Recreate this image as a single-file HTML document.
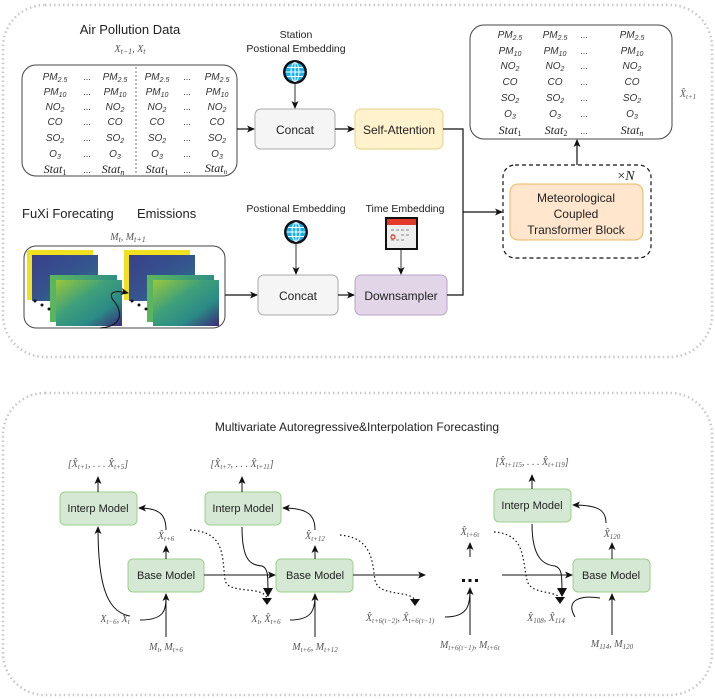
<!DOCTYPE html>
<html><head><meta charset="utf-8"><style>
body{margin:0;background:#fff}
svg{display:block}
.s{font-family:"Liberation Sans",sans-serif;fill:#222}
.p{font-family:"Liberation Sans",sans-serif;font-style:italic;font-size:10px;fill:#333;text-anchor:middle}
.m{font-family:"Liberation Serif",serif;font-style:italic;font-size:10px;fill:#555;text-anchor:middle}
.d{font-family:"Liberation Sans",sans-serif;font-size:9px;fill:#333;text-anchor:middle}
.st{font-family:"Liberation Serif",serif;font-style:italic;font-size:12px;fill:#222;text-anchor:middle}
</style></head><body>
<svg width="715" height="699" viewBox="0 0 715 699" xmlns="http://www.w3.org/2000/svg">
<defs>
<marker id="a" markerWidth="8" markerHeight="8" refX="7" refY="4" orient="auto" markerUnits="userSpaceOnUse"><path d="M0,0.5 L8,4 L0,7.5 L2,4Z" fill="#111"/></marker>
<marker id="b" markerWidth="10" markerHeight="10" refX="6" refY="5" orient="auto" markerUnits="userSpaceOnUse"><path d="M0,0 L9,5 L0,10Z" fill="#111"/></marker>
<linearGradient id="pu" x1="0" y1="0" x2="1" y2="1"><stop offset="0" stop-color="#3b3f8a"/><stop offset=".5" stop-color="#35548e"/><stop offset="1" stop-color="#2a7a8a"/></linearGradient>
<linearGradient id="gr" x1="0" y1="0" x2="1" y2="1"><stop offset="0" stop-color="#9ac83a"/><stop offset=".4" stop-color="#3ea07a"/><stop offset=".7" stop-color="#2b8a86"/><stop offset="1" stop-color="#3b2a78"/></linearGradient>
<linearGradient id="gr2" x1="0" y1="0" x2="1" y2="0"><stop offset="0" stop-color="#5cb85c"/><stop offset="1" stop-color="#2f8f84"/></linearGradient>
</defs>

<rect x="3" y="5" width="709" height="352" rx="42" fill="none" stroke="#c8c8c8" stroke-width="2.5" stroke-dasharray="1.5 3"/>
<rect x="3" y="393" width="709" height="302" rx="42" fill="none" stroke="#c8c8c8" stroke-width="2.5" stroke-dasharray="1.5 3"/>

<text class="s" x="130" y="34" font-size="13" text-anchor="middle">Air Pollution Data</text>
<text class="m" x="130" y="52" font-size="11">X<tspan font-size="8" dy="2">t−1</tspan><tspan dy="-2">, X</tspan><tspan font-size="8" dy="2">t</tspan></text>
<rect x="22" y="65" width="215" height="111" rx="14" fill="#fff" stroke="#444" stroke-width="1"/>
<line x1="136" y1="67" x2="136" y2="175" stroke="#777" stroke-dasharray="2 2"/>
<g>
<text class="p" x="55" y="80">PM<tspan font-size="7" dy="2">2.5</tspan></text><text class="d" x="87" y="80">...</text><text class="p" x="115" y="80">PM<tspan font-size="7" dy="2">2.5</tspan></text><text class="p" x="157" y="80">PM<tspan font-size="7" dy="2">2.5</tspan></text><text class="d" x="187" y="80">...</text><text class="p" x="217" y="80">PM<tspan font-size="7" dy="2">2.5</tspan></text>
<text class="p" x="55" y="95">PM<tspan font-size="7" dy="2">10</tspan></text><text class="d" x="87" y="95">...</text><text class="p" x="115" y="95">PM<tspan font-size="7" dy="2">10</tspan></text><text class="p" x="157" y="95">PM<tspan font-size="7" dy="2">10</tspan></text><text class="d" x="187" y="95">...</text><text class="p" x="217" y="95">PM<tspan font-size="7" dy="2">10</tspan></text>
<text class="p" x="55" y="110">NO<tspan font-size="7" dy="2">2</tspan></text><text class="d" x="87" y="110">...</text><text class="p" x="115" y="110">NO<tspan font-size="7" dy="2">2</tspan></text><text class="p" x="157" y="110">NO<tspan font-size="7" dy="2">2</tspan></text><text class="d" x="187" y="110">...</text><text class="p" x="217" y="110">NO<tspan font-size="7" dy="2">2</tspan></text>
<text class="p" x="55" y="125">CO</text><text class="d" x="87" y="125">...</text><text class="p" x="115" y="125">CO</text><text class="p" x="157" y="125">CO</text><text class="d" x="187" y="125">...</text><text class="p" x="217" y="125">CO</text>
<text class="p" x="55" y="141">SO<tspan font-size="7" dy="2">2</tspan></text><text class="d" x="87" y="141">...</text><text class="p" x="115" y="141">SO<tspan font-size="7" dy="2">2</tspan></text><text class="p" x="157" y="141">SO<tspan font-size="7" dy="2">2</tspan></text><text class="d" x="187" y="141">...</text><text class="p" x="217" y="141">SO<tspan font-size="7" dy="2">2</tspan></text>
<text class="p" x="55" y="157">O<tspan font-size="7" dy="2">3</tspan></text><text class="d" x="87" y="157">...</text><text class="p" x="115" y="157">O<tspan font-size="7" dy="2">3</tspan></text><text class="p" x="157" y="157">O<tspan font-size="7" dy="2">3</tspan></text><text class="d" x="187" y="157">...</text><text class="p" x="217" y="157">O<tspan font-size="7" dy="2">3</tspan></text>
<text class="st" x="55" y="173">Stat<tspan font-size="8" dy="2" font-style="normal">1</tspan></text><text class="d" x="87" y="173">...</text><text class="st" x="113" y="173">Stat<tspan font-size="8" dy="2">n</tspan></text><text class="st" x="157" y="173">Stat<tspan font-size="8" dy="2" font-style="normal">1</tspan></text><text class="d" x="187" y="173">...</text><text class="st" x="216" y="172" font-size="10">Stat<tspan font-size="7" dy="2">n</tspan></text>
</g>

<text class="s" x="296" y="38" font-size="10.5" text-anchor="middle">Station</text>
<text class="s" x="296" y="52" font-size="10.5" text-anchor="middle">Postional Embedding</text>
<g transform="translate(295,72)"><circle r="12" fill="#111"/><circle r="9.5" fill="#1ab0e8"/><g stroke="#fff" stroke-width="1" fill="none"><ellipse rx="4" ry="9.5"/><line x1="-9.5" y1="0" x2="9.5" y2="0"/><line x1="0" y1="-9.5" x2="0" y2="9.5"/><line x1="-8" y1="-4.5" x2="8" y2="-4.5"/><line x1="-8" y1="4.5" x2="8" y2="4.5"/></g></g>
<line x1="295" y1="84" x2="295" y2="108" stroke="#333" marker-end="url(#a)"/>
<line x1="237" y1="129" x2="254" y2="129" stroke="#111" stroke-width="1.2" marker-end="url(#a)"/>
<rect x="255" y="109" width="80" height="40" rx="6" fill="#f5f5f5" stroke="#aaa"/>
<text class="s" x="295" y="134" font-size="12" text-anchor="middle" fill="#333">Concat</text>
<line x1="335" y1="129" x2="354" y2="129" stroke="#111" stroke-width="1.2" marker-end="url(#a)"/>
<rect x="355" y="109" width="88" height="40" rx="6" fill="#fff2cc" stroke="#e6d08a"/>
<text class="s" x="399" y="134" font-size="12" text-anchor="middle">Self-Attention</text>

<text class="s" x="22" y="218" font-size="13">FuXi Forecating</text>
<text class="s" x="137" y="218" font-size="13">Emissions</text>
<text class="m" x="128" y="240" font-size="11">M<tspan font-size="8" dy="2">t</tspan><tspan dy="-2">, M</tspan><tspan font-size="8" dy="2">t+1</tspan></text>
<rect x="24" y="246" width="201" height="82" rx="12" fill="#fff" stroke="#444"/>
<g>
<rect x="27" y="250" width="66" height="50" fill="#f0e020"/>
<rect x="32" y="255" width="66" height="46" fill="url(#pu)"/>
<rect x="50" y="275" width="67" height="47" fill="url(#gr2)"/>
<rect x="56" y="280" width="66" height="46" fill="url(#gr)"/>
<rect x="124" y="250" width="66" height="50" fill="#f0e020"/>
<rect x="129" y="255" width="66" height="46" fill="url(#pu)"/>
<rect x="147" y="275" width="67" height="47" fill="url(#gr2)"/>
<rect x="153" y="280" width="66" height="46" fill="url(#gr)"/>
<g fill="#111"><circle cx="35" cy="301" r="1.5"/><circle cx="42" cy="305" r="1.5"/><circle cx="49" cy="309" r="1.5"/><circle cx="132" cy="301" r="1.5"/><circle cx="139" cy="305" r="1.5"/><circle cx="146" cy="309" r="1.5"/></g>
<path d="M100,328 C125,326 122,310 113,300 C108,292 115,290 128,293" fill="none" stroke="#111" marker-end="url(#a)"/>
</g>
<line x1="225" y1="295" x2="257" y2="295" stroke="#111" stroke-width="1.2" marker-end="url(#a)"/>

<text class="s" x="296" y="212" font-size="10.5" text-anchor="middle">Postional Embedding</text>
<g transform="translate(296,232)"><circle r="12" fill="#111"/><circle r="9.5" fill="#1ab0e8"/><g stroke="#fff" stroke-width="1" fill="none"><ellipse rx="4" ry="9.5"/><line x1="-9.5" y1="0" x2="9.5" y2="0"/><line x1="0" y1="-9.5" x2="0" y2="9.5"/><line x1="-8" y1="-4.5" x2="8" y2="-4.5"/><line x1="-8" y1="4.5" x2="8" y2="4.5"/></g></g>
<line x1="296" y1="244" x2="296" y2="274" stroke="#333" marker-end="url(#a)"/>
<rect x="258" y="275" width="80" height="40" rx="6" fill="#f5f5f5" stroke="#aaa"/>
<text class="s" x="298" y="300" font-size="12" text-anchor="middle" fill="#333">Concat</text>
<line x1="338" y1="295" x2="354" y2="295" stroke="#111" stroke-width="1.2" marker-end="url(#a)"/>
<rect x="355" y="275" width="92" height="40" rx="6" fill="#e1d5e7" stroke="#b9a3c8"/>
<text class="s" x="401" y="300" font-size="12" text-anchor="middle">Downsampler</text>

<text class="s" x="405" y="212" font-size="10.5" text-anchor="middle">Time Embedding</text>
<g><rect x="385" y="217" width="33" height="33" fill="#111"/><rect x="387" y="219" width="29" height="29" fill="#eee"/><rect x="387" y="219" width="29" height="6" fill="#e53a2a"/>
<g fill="#bbb"><rect x="391" y="229" width="3" height="2"/><rect x="396" y="229" width="3" height="2"/><rect x="401" y="229" width="3" height="2"/><rect x="406" y="229" width="3" height="2"/><rect x="391" y="234" width="3" height="2"/><rect x="401" y="234" width="3" height="2"/><rect x="406" y="234" width="3" height="2"/><rect x="391" y="239" width="3" height="2"/><rect x="396" y="239" width="3" height="2"/><rect x="401" y="239" width="3" height="2"/></g>
<circle cx="393" cy="237" r="2" fill="none" stroke="#e53a2a" stroke-width="1.2"/></g>
<line x1="401" y1="250" x2="401" y2="274" stroke="#333" marker-end="url(#a)"/>

<path d="M443,129 H463 V295 H447" fill="none" stroke="#111" stroke-width="1.2"/>
<line x1="463" y1="212" x2="502" y2="212" stroke="#111" stroke-width="1.2" marker-end="url(#a)"/>

<rect x="503" y="165" width="148" height="93" rx="12" fill="none" stroke="#111" stroke-width="1.2" stroke-dasharray="4 3"/>
<text x="626" y="180" font-family="Liberation Serif,serif" font-size="14" fill="#222" text-anchor="middle">×<tspan font-style="italic">N</tspan></text>
<rect x="510" y="184" width="133" height="56" rx="8" fill="#ffe6cc" stroke="#e6b860"/>
<text class="s" x="576" y="202" font-size="12" text-anchor="middle">Meteorological</text>
<text class="s" x="576" y="218" font-size="12" text-anchor="middle">Coupled</text>
<text class="s" x="576" y="234" font-size="12" text-anchor="middle">Transformer Block</text>
<line x1="577" y1="165" x2="577" y2="140" stroke="#111" stroke-width="1.2" marker-end="url(#a)"/>

<rect x="470" y="25" width="202" height="114" rx="14" fill="#fff" stroke="#444"/>
<g>
<text class="p" x="510" y="38">PM<tspan font-size="7" dy="2">2.5</tspan></text><text class="p" x="555" y="38">PM<tspan font-size="7" dy="2">2.5</tspan></text><text class="d" x="584" y="38">...</text><text class="p" x="632" y="38">PM<tspan font-size="7" dy="2">2.5</tspan></text>
<text class="p" x="510" y="54">PM<tspan font-size="7" dy="2">10</tspan></text><text class="p" x="555" y="54">PM<tspan font-size="7" dy="2">10</tspan></text><text class="d" x="584" y="54">...</text><text class="p" x="632" y="54">PM<tspan font-size="7" dy="2">10</tspan></text>
<text class="p" x="510" y="69">NO<tspan font-size="7" dy="2">2</tspan></text><text class="p" x="555" y="69">NO<tspan font-size="7" dy="2">2</tspan></text><text class="d" x="584" y="69">...</text><text class="p" x="632" y="69">NO<tspan font-size="7" dy="2">2</tspan></text>
<text class="p" x="510" y="85">CO</text><text class="p" x="555" y="85">CO</text><text class="d" x="584" y="85">...</text><text class="p" x="632" y="85">CO</text>
<text class="p" x="510" y="101">SO<tspan font-size="7" dy="2">2</tspan></text><text class="p" x="555" y="101">SO<tspan font-size="7" dy="2">2</tspan></text><text class="d" x="584" y="101">...</text><text class="p" x="632" y="101">SO<tspan font-size="7" dy="2">2</tspan></text>
<text class="p" x="510" y="117">O<tspan font-size="7" dy="2">3</tspan></text><text class="p" x="555" y="117">O<tspan font-size="7" dy="2">3</tspan></text><text class="d" x="584" y="117">...</text><text class="p" x="632" y="117">O<tspan font-size="7" dy="2">3</tspan></text>
<text class="st" x="510" y="134">Stat<tspan font-size="8" dy="2" font-style="normal">1</tspan></text><text class="st" x="556" y="134">Stat<tspan font-size="8" dy="2" font-style="normal">2</tspan></text><text class="d" x="584" y="134">...</text><text class="st" x="632" y="134">Stat<tspan font-size="8" dy="2">n</tspan></text>
</g>
<text class="m" x="688" y="97">X̂<tspan font-size="7" dy="2">t+1</tspan></text>

<text class="s" x="357" y="431" font-size="12" text-anchor="middle">Multivariate Autoregressive&amp;Interpolation Forecasting</text>

<g class="m" font-size="10">
<text x="98" y="467">[X̂<tspan font-size="7" dy="2">t+1</tspan><tspan dy="-2">, . . . X̂</tspan><tspan font-size="7" dy="2">t+5</tspan><tspan dy="-2">]</tspan></text>
<text x="242" y="467">[X̂<tspan font-size="7" dy="2">t+7</tspan><tspan dy="-2">, . . . X̂</tspan><tspan font-size="7" dy="2">t+11</tspan><tspan dy="-2">]</tspan></text>
<text x="532" y="465">[X̂<tspan font-size="7" dy="2">t+115</tspan><tspan dy="-2">, . . . X̂</tspan><tspan font-size="7" dy="2">t+119</tspan><tspan dy="-2">]</tspan></text>
<text x="166" y="539">X̂<tspan font-size="7" dy="2">t+6</tspan></text>
<text x="315" y="539">X̂<tspan font-size="7" dy="2">t+12</tspan></text>
<text x="470" y="535">X̂<tspan font-size="7" dy="2">t+6τ</tspan></text>
<text x="612" y="537">X̂<tspan font-size="7" dy="2">120</tspan></text>
<text x="115" y="622">X<tspan font-size="7" dy="2">t−6</tspan><tspan dy="-2">, X</tspan><tspan font-size="7" dy="2">t</tspan></text>
<text x="266" y="622">X<tspan font-size="7" dy="2">t</tspan><tspan dy="-2">, X̂</tspan><tspan font-size="7" dy="2">t+6</tspan></text>
<text x="400" y="621">X̂<tspan font-size="7" dy="2">t+6(τ−2)</tspan><tspan dy="-2">, X̂</tspan><tspan font-size="7" dy="2">t+6(τ−1)</tspan></text>
<text x="546" y="621">X̂<tspan font-size="7" dy="2">108</tspan><tspan dy="-2">, X̂</tspan><tspan font-size="7" dy="2">114</tspan></text>
<text x="166" y="650">M<tspan font-size="7" dy="2">t</tspan><tspan dy="-2">, M</tspan><tspan font-size="7" dy="2">t+6</tspan></text>
<text x="315" y="650">M<tspan font-size="7" dy="2">t+6</tspan><tspan dy="-2">, M</tspan><tspan font-size="7" dy="2">t+12</tspan></text>
<text x="470" y="648">M<tspan font-size="7" dy="2">t+6(τ−1)</tspan><tspan dy="-2">, M</tspan><tspan font-size="7" dy="2">t+6τ</tspan></text>
<text x="612" y="647">M<tspan font-size="7" dy="2">114</tspan><tspan dy="-2">, M</tspan><tspan font-size="7" dy="2">120</tspan></text>
</g>

<g fill="#d5e8d4" stroke="#9ccf8a">
<rect x="60" y="492" width="77" height="33" rx="5"/>
<rect x="205" y="492" width="76" height="33" rx="5"/>
<rect x="494" y="489" width="77" height="33" rx="5"/>
<rect x="128" y="559" width="76" height="33" rx="5"/>
<rect x="276" y="559" width="77" height="33" rx="5"/>
<rect x="573" y="559" width="77" height="33" rx="5"/>
</g>
<g class="s" font-size="11" text-anchor="middle">
<text x="98" y="512">Interp Model</text>
<text x="243" y="512">Interp Model</text>
<text x="532" y="509">Interp Model</text>
<text x="166" y="579">Base Model</text>
<text x="315" y="579">Base Model</text>
<text x="611" y="579">Base Model</text>
</g>

<g fill="none" stroke="#111" stroke-width="1">
<line x1="98" y1="492" x2="98" y2="477" marker-end="url(#a)"/>
<line x1="242" y1="492" x2="242" y2="477" marker-end="url(#a)"/>
<line x1="532" y1="489" x2="532" y2="475" marker-end="url(#a)"/>
<line x1="166" y1="559" x2="166" y2="546" marker-end="url(#a)"/>
<line x1="315" y1="559" x2="315" y2="546" marker-end="url(#a)"/>
<line x1="612" y1="559" x2="612" y2="543" marker-end="url(#a)"/>
<line x1="470" y1="557" x2="470" y2="543" marker-end="url(#a)"/>
<line x1="166" y1="637" x2="166" y2="594" marker-end="url(#a)"/>
<line x1="315" y1="637" x2="315" y2="594" marker-end="url(#a)"/>
<line x1="470" y1="635" x2="470" y2="588" marker-end="url(#a)"/>
<line x1="612" y1="635" x2="612" y2="594" marker-end="url(#a)"/>
<path d="M166,530 C166,515 160,508 139,508" marker-end="url(#a)"/>
<path d="M315,530 C315,515 308,508 283,508" marker-end="url(#a)"/>
<path d="M606,523 C606,510 598,505 573,505" marker-end="url(#a)"/>
<path d="M130,616 C105,612 98,580 98,527" marker-end="url(#a)"/>
<path d="M140,620 C165,620 166,610 166,595"/>
<path d="M290,620 C312,620 315,610 315,595"/>
<path d="M445,617 C468,617 470,605 470,590"/>
<path d="M575,617 C565,600 580,595 600,598"/>
<path d="M242,527 C242,560 250,565 262,566 C268,568 268,575 268,594" marker-end="url(#b)"/>
<path d="M532,524 C532,560 545,565 555,566 C562,568 562,575 562,594" marker-end="url(#b)"/>
<line x1="204" y1="575" x2="275" y2="575" marker-end="url(#a)"/>
<line x1="353" y1="575" x2="425" y2="575" marker-end="url(#a)"/>
<line x1="502" y1="575" x2="572" y2="575" marker-end="url(#a)"/>
</g>
<g fill="none" stroke="#111" stroke-width="1.2" stroke-dasharray="1.5 2.5">
<path d="M190,530 C225,532 222,555 225,580 C228,595 262,585 267,598"/>
<path d="M340,535 C372,538 372,560 375,580 C378,597 410,590 415,600"/>
<path d="M494,532 C526,534 522,560 527,580 C530,595 555,590 560,598"/>
</g>
<path d="M262,598 L272,598 L267,605Z" fill="#111"/>
<path d="M410,599 L420,599 L415,606Z" fill="#111"/>
<path d="M555,597 L565,597 L560,604Z" fill="#111"/>
<g fill="#111"><rect x="462" y="579" width="3" height="3"/><rect x="468.5" y="579" width="3" height="3"/><rect x="475" y="579" width="3" height="3"/></g>
</svg>
</body></html>
